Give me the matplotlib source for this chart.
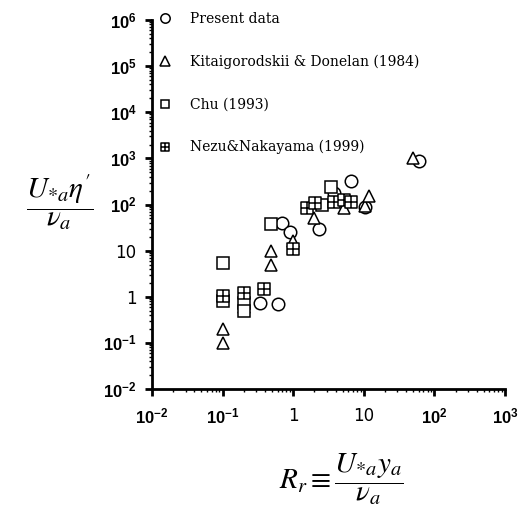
import numpy as np
import matplotlib.pyplot as plt
from matplotlib.path import Path
from matplotlib.ticker import LogLocator, FixedLocator, FixedFormatter, NullFormatter

plt.rcParams['mathtext.fontset'] = 'custom'
plt.rcParams['mathtext.rm'] = 'Liberation Sans:bold'
plt.rcParams['mathtext.it'] = 'Liberation Sans:bold'
plt.rcParams['mathtext.bf'] = 'Liberation Sans:bold'

# Present data (circles)
present_x = [0.34, 0.61, 0.70, 0.89, 2.3, 3.8, 6.5, 10.5, 60]
present_y = [0.72, 0.68, 40, 25, 30, 180, 330, 90, 900]

# Kitaigorodskii & Donelan (1984) (triangles)
kd_x = [0.1, 0.1, 0.2, 0.49, 0.49, 1.0, 1.96, 5.2, 10.5, 12, 50]
kd_y = [0.2, 0.1, 0.6, 10, 5.0, 16, 50, 85, 95, 150, 1000]

# Chu (1993) (squares)
chu_x = [0.1, 0.1, 0.2, 0.2, 0.48, 2.6, 3.4]
chu_y = [5.3, 0.8, 0.75, 0.5, 38, 100, 240]

# Nezu & Nakayama (1999) (boxed plus)
nn_x = [0.1, 0.2, 0.39, 1.0, 1.58, 2.07, 3.8, 5.2, 6.5]
nn_y = [1.05, 1.2, 1.5, 11, 85, 110, 115, 125, 115]

xticks = [1e-2, 1e-1, 1, 10, 1e2, 1e3]
xlabels = ['$10^{-2}$', '$10^{-1}$', '1', '10', '$10^{2}$', '$10^{3}$']
yticks = [1e-2, 1e-1, 1, 10, 1e2, 1e3, 1e4, 1e5, 1e6]
ylabels = ['$10^{-2}$', '$10^{-1}$', '1', '10', '$10^{2}$', '$10^{3}$',
           '$10^{4}$', '$10^{5}$', '$10^{6}$']

# square with a cross inside, used as the Nezu&Nakayama marker
boxplus = Path([(-1, -1), (1, -1), (1, 1), (-1, 1), (-1, -1),
                (-1, 0), (1, 0), (0, -1), (0, 1)],
               [Path.MOVETO, Path.LINETO, Path.LINETO, Path.LINETO, Path.CLOSEPOLY,
                Path.MOVETO, Path.LINETO, Path.MOVETO, Path.LINETO])

fig = plt.figure(figsize=(5.21, 5.12), dpi=100)
ax = fig.add_axes([0.2917, 0.2402, 0.6776, 0.7207])

ms = 9
ax.plot(present_x, present_y, 'o', ls='none', ms=ms, mfc='white', mec='black', mew=1.1,
        label='Present data')
ax.plot(kd_x, kd_y, '^', ls='none', ms=ms, mfc='white', mec='black', mew=1.1,
        label='Kitaigorodskii & Donelan (1984)')
ax.plot(chu_x, chu_y, 's', ls='none', ms=ms - 1, mfc='white', mec='black', mew=1.1,
        label='Chu (1993)')
ax.plot(nn_x, nn_y, marker=boxplus, ls='none', ms=ms - 1, mfc='white', mec='black', mew=1.1,
        label='Nezu&Nakayama (1999)')

ax.set_xscale('log')
ax.set_yscale('log')
ax.set_xlim(1e-2, 1e3)
ax.set_ylim(1e-2, 1e6)

for s in ['top', 'right']:
    ax.spines[s].set_visible(False)
for s in ['left', 'bottom']:
    ax.spines[s].set_linewidth(2)

ax.xaxis.set_major_locator(FixedLocator(xticks))
ax.xaxis.set_major_formatter(FixedFormatter(xlabels))
ax.yaxis.set_major_locator(FixedLocator(yticks))
ax.yaxis.set_major_formatter(FixedFormatter(ylabels))
ax.xaxis.set_minor_locator(LogLocator(base=10, subs=np.arange(2, 10), numticks=20))
ax.yaxis.set_minor_locator(LogLocator(base=10, subs=np.arange(2, 10), numticks=20))
ax.xaxis.set_minor_formatter(NullFormatter())
ax.yaxis.set_minor_formatter(NullFormatter())
ax.tick_params(which='major', direction='out', length=5, width=2, labelsize=12)
ax.tick_params(which='minor', direction='out', length=2.5, width=1)
ax.tick_params(axis='x', pad=8)
ax.tick_params(axis='y', pad=6)

ax.legend(loc='upper left', bbox_to_anchor=(0.285, 0.995), bbox_transform=fig.transFigure,
          frameon=False, prop={'family': 'DejaVu Serif', 'size': 10}, markerscale=0.75,
          handlelength=1.0, handletextpad=1.3, labelspacing=2.05, borderpad=0.2)

fig.text(0.115, 0.605, r"$\dfrac{U_{*a}\eta'}{\nu_a}$", fontsize=21,
         ha='center', va='center', math_fontfamily='stix')
fig.text(0.655, 0.063, r'$R_{r}\equiv\dfrac{U_{*a}y_a}{\nu_a}$', fontsize=21,
         ha='center', va='center', math_fontfamily='stix')

fig.savefig('out.png', dpi=100)
